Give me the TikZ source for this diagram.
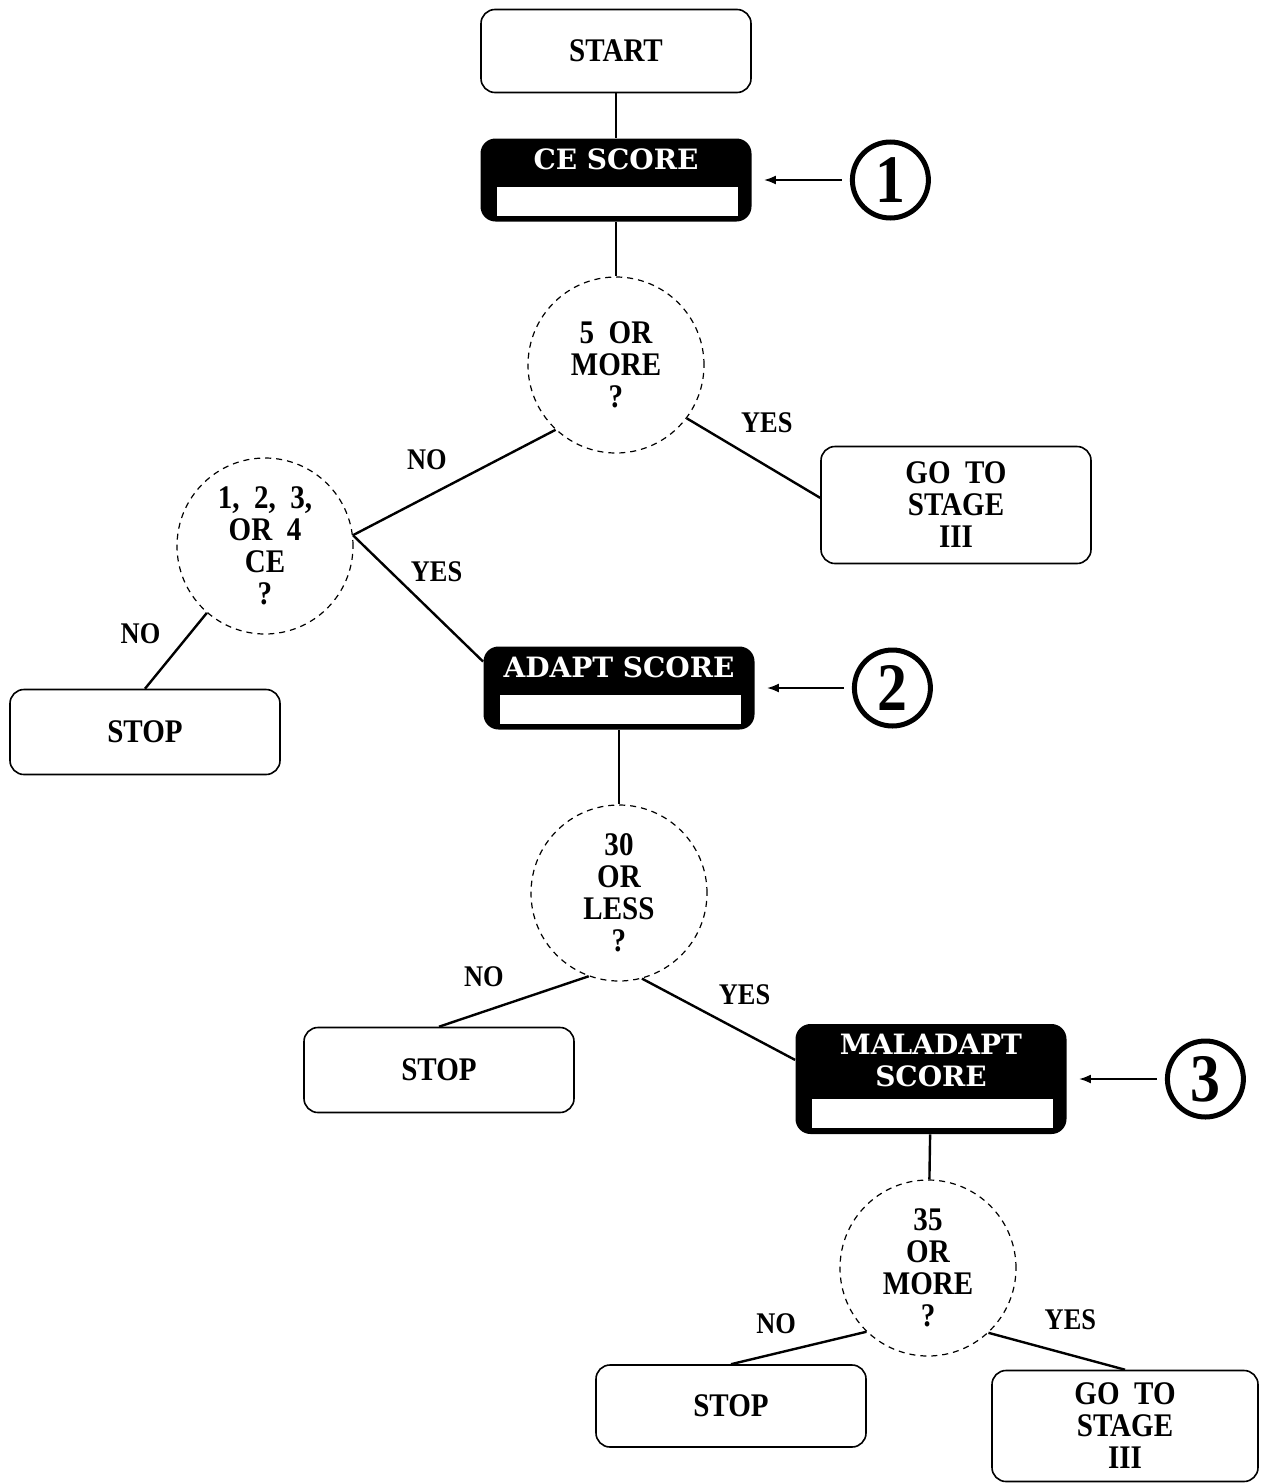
\documentclass[tikz,border=0pt]{standalone}
\usepackage{fontspec}
\setmainfont{Liberation Serif}[FakeStretch=0.88]
\newfontfamily\headfont{DejaVu Serif}[BoldFont={DejaVu Serif Bold}]
\usetikzlibrary{arrows.meta,positioning}

\begin{document}
\begin{tikzpicture}[x=0.5pt,y=-0.5pt,
  every node/.style={font=\fontsize{16.5}{16}\selectfont\bfseries},
  endbox/.style={draw,line width=0.8pt,rounded corners=7pt,fill=white,
                 minimum width=135pt,minimum height=#1,align=center,inner sep=2pt},
  endbox/.default=42pt,
  score/.style={fill=black,rounded corners=7.5pt,minimum width=135.5pt,minimum height=#1,
                path picture={\fill[white,sharp corners]
                  ([xshift=8pt,yshift=3pt]path picture bounding box.south west) rectangle
                  ([xshift=-7pt,yshift=17.5pt]path picture bounding box.south east);}},
  score/.default=41.5pt,
  head/.style={text=white,font=\headfont\bfseries\fontsize{14}{16}\selectfont,
               align=center,inner sep=0pt,anchor=north,yshift=-5pt},
  ask/.style={circle,draw,dash pattern=on 3pt off 2.5pt,line width=0.6pt,
              minimum size=88pt,align=center,inner sep=0pt},
  numring/.style={circle,draw,line width=2.5pt,minimum size=38pt,inner sep=0pt,
                  font=\fontsize{34}{34}\selectfont\bfseries},
  lbl/.style={font=\fontsize{15}{15}\selectfont\bfseries,inner sep=0pt},
  link/.style={line width=1.2pt},
  arr/.style={-{Latex[length=6pt,width=4.5pt]},line width=1pt,
              shorten <=4pt,shorten >=6pt}
]
\useasboundingbox (0,0) rectangle (1260,1483);

% first stage
\node[endbox=41.5pt] (start) at (616,51) {START};
\node[score,label={[head]north:CE\ SCORE}] (ce) at (616,180) {};
\node[numring,right=49pt of ce] (m1) {1};
\node[ask] (ask1) at (616,365) {5\ \ OR\\MORE\\?};
\node[endbox=58.5pt] (go1) at (956,505) {GO\ \ TO\\STAGE\\III};
\node[ask] (ask2) at (265,546) {1,\ \ 2,\ \ 3,\\OR\ \ 4\\CE\\?};
\node[endbox=42.5pt] (stop1) at (145,732) {STOP};

% second stage
\node[score,label={[head]north:ADAPT\ SCORE}] (adapt) at (619,688) {};
\node[numring,right=48.5pt of adapt] (m2) {2};
\node[ask] (ask3) at (619,893) {30\\OR\\LESS\\?};
\node[endbox=42.5pt] (stop2) at (439,1070) {STOP};

% third stage
\node[score=55pt,label={[head]north:MALADAPT\\SCORE}] (mal) at (931,1079) {};
\node[numring,right=49pt of mal] (m3) {3};
\node[ask] (ask4) at (928,1268) {35\\OR\\MORE\\?};
\node[endbox=41pt] (stop3) at (731,1406) {STOP};
\node[endbox=55.5pt,minimum width=133pt] (go2) at (1125,1426) {GO\ \ TO\\STAGE\\III};

\draw[link] (start) -- (ce);
\draw[link] (ce) -- (ask1);
\draw[link] (ask1.227) -- node[lbl,above=13pt,pos=0.635]{NO} (ask2.7);
\draw[link] (ask1.323) -- node[lbl,above=16pt,pos=0.6]{YES} (go1.177);
\draw[link] (ask2.7) -- node[lbl,right=9.5pt,pos=0.29]{YES} (adapt.169);
\draw[link] (ask2.229) -- node[lbl,left=14pt,pos=0.28]{NO} (stop1.north);
\draw[link] (adapt) -- (ask3);
\draw[link] (ask3.250) -- node[lbl,above=12pt,pos=0.7]{NO} (stop2.north);
\draw[link] (ask3.285) -- node[lbl,above=13.5pt,pos=0.67]{YES} (mal.172);
\draw[link] (mal) -- (ask4);
\draw[link] (ask4.226) -- node[lbl,above=9pt,pos=0.667]{NO} (stop3.north);
\draw[link] (ask4.313) -- node[lbl,above=12pt,pos=0.6]{YES} (go2.north);

\draw[arr] (m1.west) -- (m1.west -| ce.east);
\draw[arr] (m2.west) -- (m2.west -| adapt.east);
\draw[arr] (m3.west) -- (m3.west -| mal.east);
\end{tikzpicture}
\end{document}
